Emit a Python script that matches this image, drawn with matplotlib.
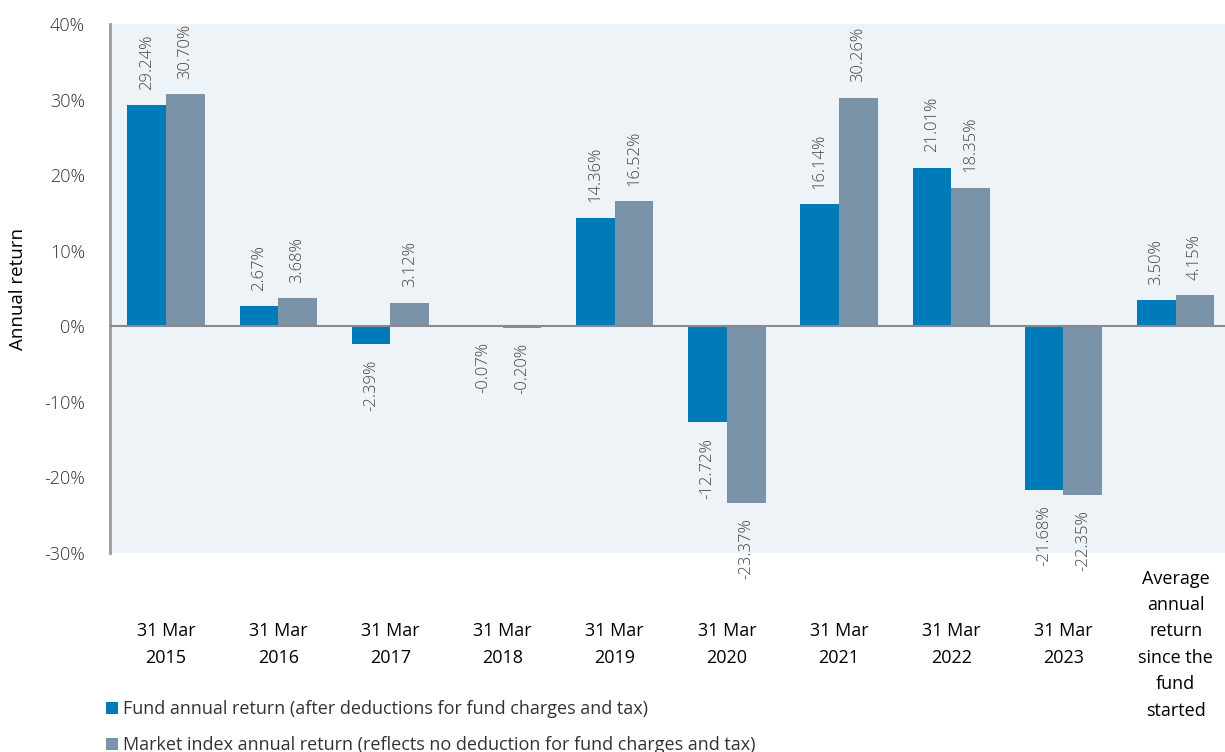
import matplotlib
matplotlib.use("Agg")
import matplotlib.pyplot as plt
import numpy as np

# data
categories = ["31 Mar\n2015", "31 Mar\n2016", "31 Mar\n2017", "31 Mar\n2018", "31 Mar\n2019",
              "31 Mar\n2020", "31 Mar\n2021", "31 Mar\n2022", "31 Mar\n2023",
              "Average\nannual\nreturn\nsince the\nfund\nstarted"]
fund = [29.24, 2.67, -2.39, -0.07, 14.36, -12.72, 16.14, 21.01, -21.68, 3.50]
market = [30.70, 3.68, 3.12, -0.20, 16.52, -23.37, 30.26, 18.35, -22.35, 4.15]
fund_label = "Fund annual return (after deductions for fund charges and tax)"
market_label = "Market index annual return (reflects no deduction for fund charges and tax)"

BLUE = "#007BBA"
GREY = "#7A93A8"
BG = "#EEF3F7"
TXT = "#333333"

plt.rcParams['font.family'] = ['Open Sans', 'DejaVu Sans']

fig = plt.figure(figsize=(12.25, 7.52), dpi=100)
ax = fig.add_axes([110/1225, 1-553/752, 1-110/1225, (553-24)/752])
ax.set_facecolor(BG)

x = np.arange(len(categories))
w = 0.345
b1 = ax.bar(x - w/2, fund, w, color=BLUE, label=fund_label, zorder=2)
b2 = ax.bar(x + w/2, market, w, color=GREY, label=market_label, zorder=2)

for bars in (b1, b2):
    lbls = ax.bar_label(bars, fmt="%.2f%%", rotation=90, padding=11,
                        fontsize=12, color="#444444", fontweight='light')
    for t in lbls:
        t.set_clip_on(False)

ax.axhline(0, color="#8a8a8a", lw=1.5, zorder=3)

ax.set_xlim(-0.5, 9.44)
ax.set_ylim(-30, 40)
ax.set_yticks(range(-30, 41, 10))
ax.set_yticklabels([f"{v}%" for v in range(-30, 41, 10)], fontsize=13, color=TXT, fontweight='light')
ax.set_xticks(x)
ax.set_xticklabels(categories, fontsize=13, color="black", linespacing=1.6)
for t in ax.get_xticklabels():
    t.set_verticalalignment('center')
ax.tick_params(axis='x', length=0, pad=66)
ax.tick_params(axis='y', length=0, pad=18)

for s in ("top", "right", "bottom"):
    ax.spines[s].set_visible(False)
ax.spines["left"].set_color("#999999")
ax.spines["left"].set_linewidth(2)

ax.set_ylabel("Annual return", fontsize=13.5, color="black", labelpad=12)

fig.legend(handles=[b1, b2], loc="upper left", bbox_to_anchor=(90/1225, 1-684/752),
           frameon=False, fontsize=13, handlelength=0.65, handleheight=0.65,
           handletextpad=0.3, labelspacing=1.0, labelcolor=TXT)

fig.savefig("out.png", dpi=100)
